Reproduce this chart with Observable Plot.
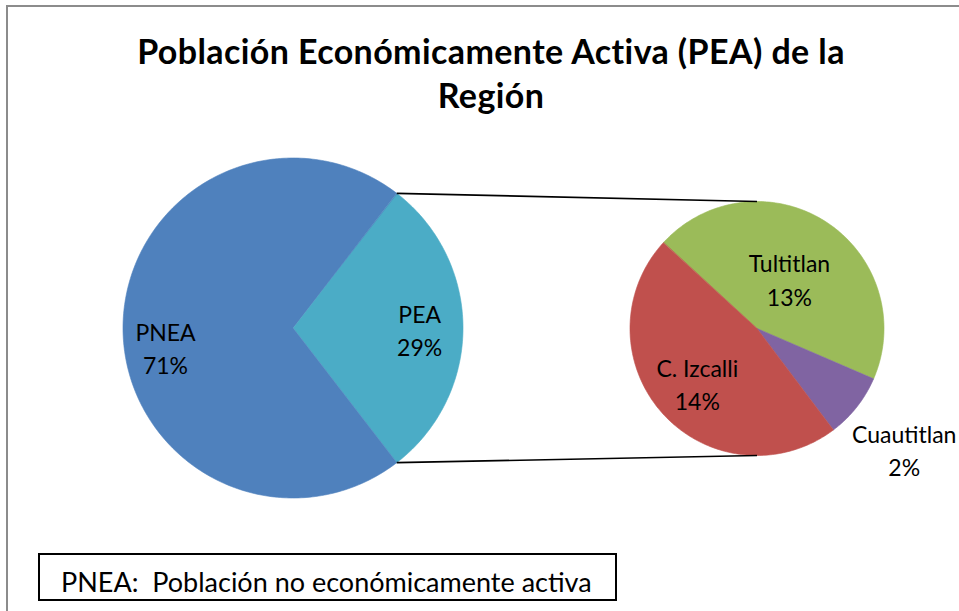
<!DOCTYPE html>
<html>
<head>
<meta charset="utf-8">
<script src="https://cdn.jsdelivr.net/npm/d3@7"></script>
<script src="https://cdn.jsdelivr.net/npm/@observablehq/plot@0.6"></script>
<style>
  html, body { margin: 0; padding: 0; background: #fff; overflow: hidden; }
  #wrap { position: relative; width: 959px; height: 611px; overflow: hidden; }
  #frame { position: absolute; left: 6px; top: 5px; width: 1200px; height: 900px;
           border-left: 2px solid #8c8c8c; border-top: 2px solid #8c8c8c; }
  #chart { position: absolute; left: 0; top: 0; }
  #title { position: absolute; left: 21px; width: 940px; top: 29px; text-align: center;
           font-family: Lato, sans-serif; font-weight: bold; font-size: 34px; line-height: 44px;
           letter-spacing: 0.4px; color: #000; }
  #note { position: absolute; left: 38px; top: 553px; width: 575px; height: 44px;
          border: 2px solid #000; overflow: hidden; background: #fff; }
  #note span { position: absolute; left: 21px; top: 11px; white-space: pre;
               font-family: Lato, sans-serif; font-size: 27px; line-height: 32px; color: #000; }
</style>
</head>
<body>
<div id="wrap">
  <div id="frame"></div>
  <div id="chart"></div>
  <div id="title">Población Económicamente Activa (PEA) de la<br>Región</div>
  <div id="note"><span>PNEA:  Población no económicamente activa</span></div>
</div>
<script>
// ---- data ----
const mainCategories = ["PEA", "PNEA"];
const mainValues = [29.1, 70.9];
const mainColors = ["#4BACC6", "#4F81BD"];

const subCategories = ["Tultitlan", "Cuautitlan", "C. Izcalli"];
const subValues = [13.0, 2.4, 13.7];
const subColors = ["#9BBB59", "#8064A2", "#C0504D"];

// ---- layout ----
const W = 959, H = 611;
const mainTotal = d3.sum(mainValues);
const peaSpan = mainValues[0] / mainTotal * 360;
const mainPie = {cx: 292.5, cy: 327.5, r: 170, start: 90 - peaSpan / 2, total: mainTotal};
const subPie = {cx: 756.5, cy: 328, r: 127, start: 312.5, total: d3.sum(subValues)};
const labelLayout = {
  "PEA": {k: 0.745, dx: 0, dy: 1},
  "PNEA": {k: 0.75, dx: 0, dy: 19},
  "Tultitlan": {k: 0.47, dx: 0, dy: 0},
  "Cuautitlan": {k: 1.535, dx: -6, dy: 0},
  "C. Izcalli": {k: 0.635, dx: 0, dy: 0}
};

const rad = a => a * Math.PI / 180;
const pt = (pie, a, k = 1) => ({x: pie.cx + pie.r * k * Math.sin(rad(a)), y: pie.cy - pie.r * k * Math.cos(rad(a))});

function buildPie(categories, values, pie) {
  const polys = [], labels = [], edges = [];
  let a = pie.start;
  categories.forEach((c, i) => {
    const span = values[i] / pie.total * 360;
    const a0 = a, a1 = a + span;
    polys.push({name: c, x: pie.cx, y: pie.cy});
    const n = Math.max(2, Math.ceil(span));
    for (let j = 0; j <= n; j++) {
      const p = pt(pie, a0 + span * j / n);
      polys.push({name: c, x: p.x, y: p.y});
    }
    const L = labelLayout[c];
    const lp = pt(pie, (a0 + a1) / 2, L.k);
    labels.push({text: c + "\n" + Math.round(values[i]) + "%", x: lp.x + L.dx, y: lp.y + L.dy});
    edges.push({name: c, a0, a1});
    a = a1;
  });
  return {polys, labels, edges};
}

const main = buildPie(mainCategories, mainValues, mainPie);
const sub = buildPie(subCategories, subValues, subPie);

const peaEdge = main.edges[0];
const pTop = pt(mainPie, peaEdge.a0), pBot = pt(mainPie, peaEdge.a1);
const links = [
  {x1: pTop.x, y1: pTop.y, x2: subPie.cx, y2: subPie.cy - subPie.r},
  {x1: pBot.x, y1: pBot.y, x2: subPie.cx, y2: subPie.cy + subPie.r}
];

const chart = Plot.plot({
  width: W, height: H, margin: 0,
  x: {domain: [0, W], range: [0, W], axis: null},
  y: {domain: [0, H], range: [0, H], axis: null},
  color: {domain: [...mainCategories, ...subCategories], range: [...mainColors, ...subColors]},
  style: {background: "transparent", overflow: "hidden"},
  marks: [
    Plot.line([...main.polys, ...sub.polys], {x: "x", y: "y", z: "name", fill: "name", stroke: "name", strokeWidth: 0.6, curve: "linear-closed"}),
    Plot.link(links, {x1: "x1", y1: "y1", x2: "x2", y2: "y2", stroke: "#000", strokeWidth: 1.6}),
    Plot.text([...main.labels, ...sub.labels], {x: "x", y: "y", text: "text", fontSize: 23, fontFamily: "Lato", lineHeight: 1.45, fill: "#000"})
  ]
});
document.getElementById("chart").appendChild(chart);
</script>
</body>
</html>
